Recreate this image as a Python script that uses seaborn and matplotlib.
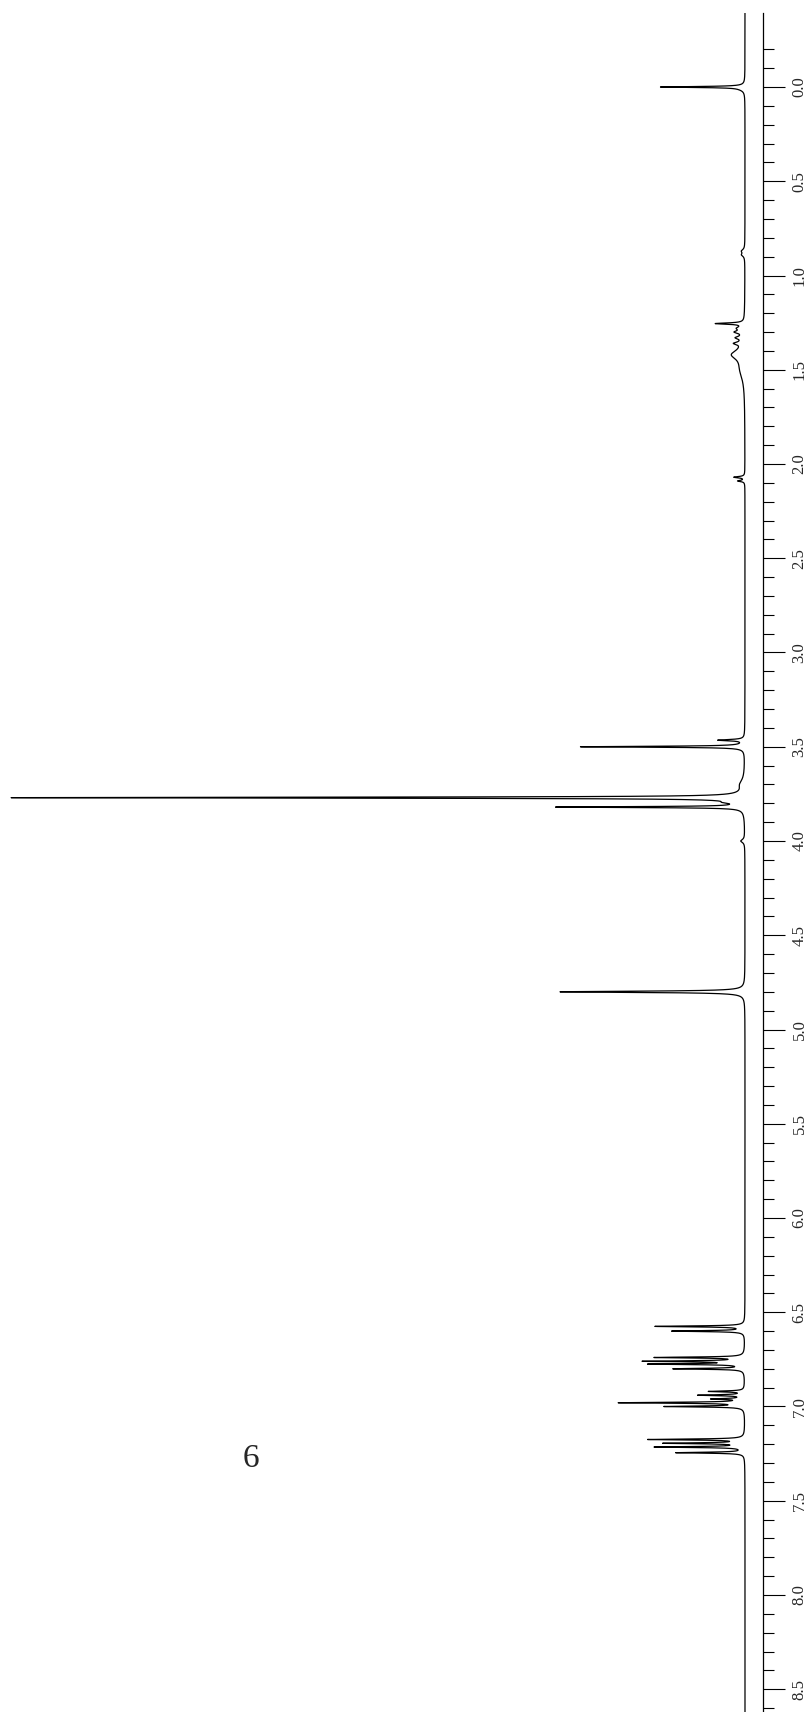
import numpy as np
import pandas as pd
import matplotlib
matplotlib.use("Agg")
import matplotlib.pyplot as plt
from matplotlib.ticker import FixedLocator, FormatStrFormatter
import seaborn as sns

# ---- peak list (ppm, height, half-width) ----
peak_ppm = [0.000, 0.012, 0.870, 0.890, 1.255, 1.280, 1.300, 1.330, 1.360, 1.420, 1.500,
            2.070, 2.090, 3.465, 3.500, 3.700, 3.770, 3.795, 3.820, 4.000, 4.800,
            6.575, 6.600, 6.740, 6.760, 6.775, 6.800, 6.920, 6.940, 6.960, 6.980, 7.000,
            7.175, 7.195, 7.215, 7.245]
peak_height = [83, 3, 3, 3, 28, 6, 8, 7, 8, 12, 4,
               11, 7, 26, 164, 4, 732, 10, 186, 4, 185,
               89, 72, 88, 97, 92, 70, 35, 45, 30, 124, 78,
               95, 78, 88, 68]
peak_width = [0.003, 0.012, 0.010, 0.010, 0.004, 0.010, 0.008, 0.008, 0.008, 0.030, 0.060,
              0.004, 0.004, 0.004, 0.003, 0.030, 0.003, 0.006, 0.003, 0.010, 0.004,
              0.003, 0.003, 0.003, 0.003, 0.003, 0.003, 0.003, 0.003, 0.003, 0.003, 0.003,
              0.003, 0.003, 0.003, 0.003]

major_ticks = [0.0, 0.5, 1.0, 1.5, 2.0, 2.5, 3.0, 3.5, 4.0, 4.5, 5.0, 5.5, 6.0, 6.5, 7.0, 7.5, 8.0, 8.5]
compound_label = "6"

# ---- build spectrum trace from the peak list ----
ppm = np.arange(-0.40, 8.63, 0.0005)
intensity = np.zeros_like(ppm)
for p, h, w in zip(peak_ppm, peak_height, peak_width):
    intensity += h * w**2 / ((ppm - p) ** 2 + w**2)
df = pd.DataFrame({"ppm": ppm, "intensity": intensity})

sns.set_style("white")
plt.rcParams["font.family"] = ["Liberation Serif", "DejaVu Serif"]

W, H = 812, 1712
fig = plt.figure(figsize=(W / 100, H / 100), dpi=100)
ax_top = 13
ax = fig.add_axes([0, 0, 763 / W, (H - ax_top) / H])

sns.lineplot(data=df, x="intensity", y="ppm", sort=False, estimator=None,
             orient="y", color="black", linewidth=0.9, ax=ax)

px_per_ppm = 188.5
y0 = 87
ax.set_ylim((H - y0) / px_per_ppm, (ax_top - y0) / px_per_ppm)
ax.set_xlim(745, -18)

for s in ["left", "top", "bottom"]:
    ax.spines[s].set_visible(False)
ax.spines["right"].set_visible(True)
ax.spines["right"].set_color("black")
ax.spines["right"].set_linewidth(0.9)

ax.set_xticks([])
ax.set_xlabel("")
ax.set_ylabel("")
ax.yaxis.tick_right()
minor = [round(-0.2 + 0.1 * i, 1) for i in range(89)]
minor = [m for m in minor if m not in major_ticks]
ax.yaxis.set_major_locator(FixedLocator(major_ticks))
ax.yaxis.set_minor_locator(FixedLocator(minor))
ax.yaxis.set_major_formatter(FormatStrFormatter("%.1f"))
ax.tick_params(axis="y", which="major", direction="out", length=15.6, width=0.8,
               color="black", pad=5, labelsize=12, right=True, left=False)
ax.tick_params(axis="y", which="minor", direction="out", length=7.9, width=0.8,
               color="black", right=True, left=False)
for lab in ax.get_yticklabels():
    lab.set_rotation(90)
    lab.set_va("center")
    lab.set_ha("left")

fig.text(251 / W, 1 - 1459 / H, compound_label, fontsize=24, ha="center", va="center",
         family=["Liberation Serif", "DejaVu Serif"])

fig.savefig("out.png", dpi=100)
